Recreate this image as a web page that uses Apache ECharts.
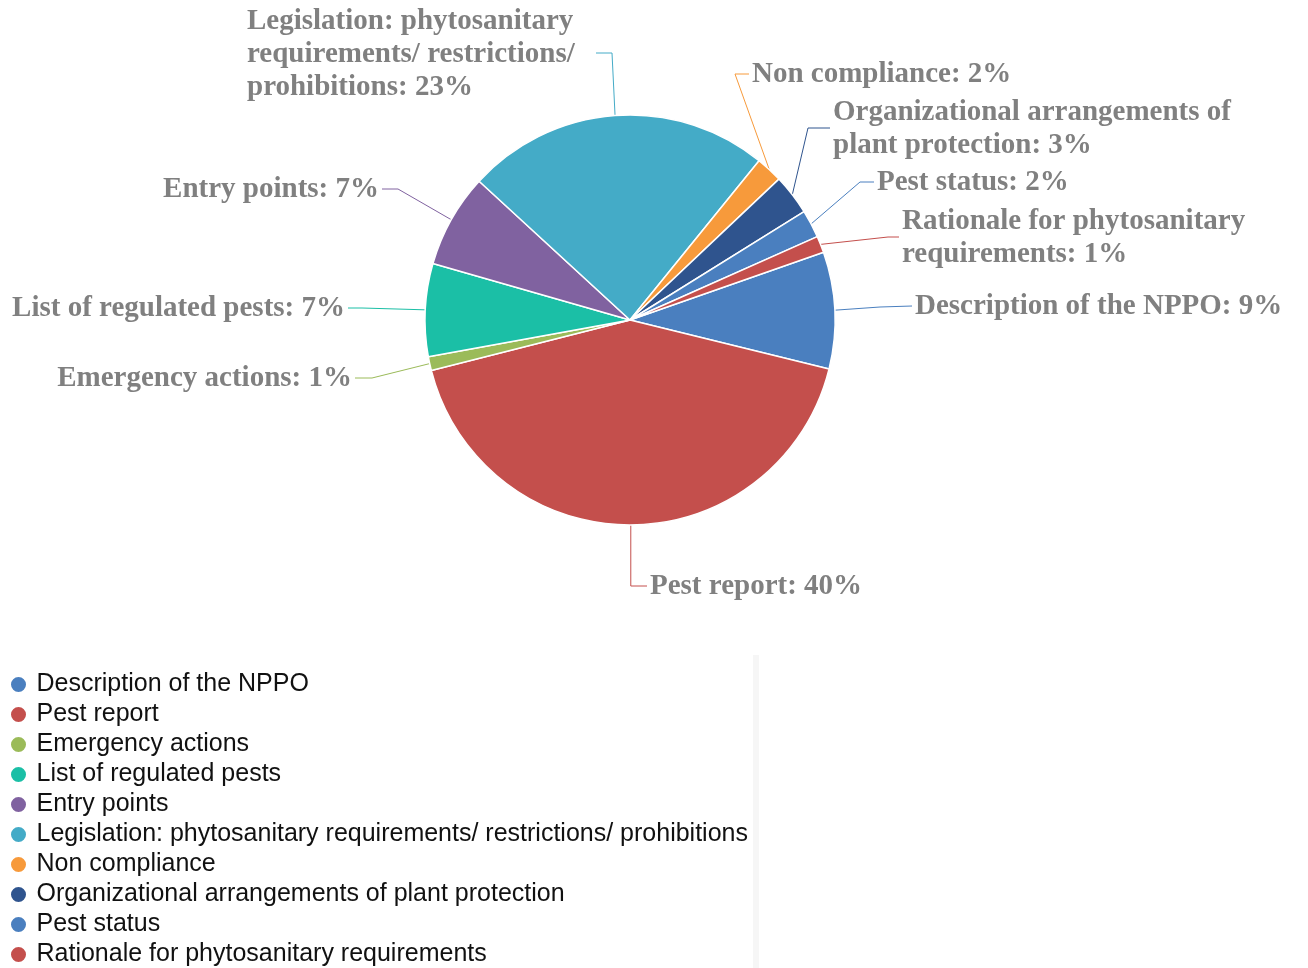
<!DOCTYPE html>
<html>
<head>
<meta charset="utf-8">
<script type="text/javascript" src="https://cdn.jsdelivr.net/npm/echarts@6/dist/echarts.min.js"></script>
</head>
<body style="margin: 0; background: #fff">
<div id="container" style="width: 1308px; height: 968px"></div>
<script type="text/javascript">
    // categories in legend order (clockwise from the first slice)
    var categories = [
        'Description of the NPPO',
        'Pest report',
        'Emergency actions',
        'List of regulated pests',
        'Entry points',
        'Legislation: phytosanitary requirements/ restrictions/ prohibitions',
        'Non compliance',
        'Organizational arrangements of plant protection',
        'Pest status',
        'Rationale for phytosanitary requirements'
    ];
    // slice sizes as drawn (share of the circle, %)
    var shares = [9.2, 42.2, 1.1, 7.3, 7.4, 24.0, 2.1, 3.2, 2.2, 1.3];
    // percentages printed on the labels
    var shownPct = [9, 40, 1, 7, 7, 23, 2, 3, 2, 1];
    // label text with the line breaks used in the chart
    var labelNames = [
        'Description of the NPPO',
        'Pest report',
        'Emergency actions',
        'List of regulated pests',
        'Entry points',
        'Legislation: phytosanitary\nrequirements/ restrictions/\nprohibitions',
        'Non compliance',
        'Organizational arrangements of\nplant protection',
        'Pest status',
        'Rationale for phytosanitary\nrequirements'
    ];
    var colors = ['#4a7fbf', '#c44f4c', '#9bbb59', '#1bbfa6', '#8062a0',
                  '#44abc7', '#f79a3b', '#2f548e', '#4a7fbf', '#c44f4c'];

    // where each label sits and how its leader line bends
    var spots = [
        {x: 915, y: 307, align: 'left',  bend: [880, 307], end: [912, 306]},
        {x: 650, y: 587, align: 'left',  bend: [null, 586], end: [647, 586]},
        {x: 352, y: 379, align: 'right', bend: [372, 378], end: [355, 378]},
        {x: 345, y: 309, align: 'right', bend: [362, 308], end: [348, 308]},
        {x: 379, y: 190, align: 'right', bend: [398, 189], end: [382, 189]},
        {x: 247, y: 55,  align: 'left',  bend: [612, 53], end: [596, 53]},
        {x: 752, y: 75,  align: 'left',  bend: [735, 74], end: [749, 74]},
        {x: 833, y: 129, align: 'left',  bend: [808, 128], end: [830, 128]},
        {x: 877, y: 183, align: 'left',  bend: [860, 182], end: [874, 182]},
        {x: 902, y: 238, align: 'left',  bend: [888, 237], end: [899, 237]}
    ];

    var seriesData = [];
    for (var i = 0; i < categories.length; i++) {
        seriesData.push({
            name: categories[i],
            value: shares[i],
            itemStyle: {color: colors[i]}
        });
    }

    var myChart = echarts.init(document.getElementById('container'), null, {renderer: 'canvas'});

    var option = {
        animation: false,
        backgroundColor: '#fff',
        legend: {
            orient: 'vertical',
            left: 9,
            top: 672,
            height: 296,
            padding: 0,
            icon: 'circle',
            itemWidth: 18,
            itemHeight: 17,
            itemGap: 5,
            data: categories,
            textStyle: {
                fontFamily: 'Liberation Sans, Arial, sans-serif',
                fontSize: 25,
                lineHeight: 25,
                color: '#111',
                padding: [0, 0, 0, 4]
            }
        },
        graphic: [{
            type: 'rect',
            left: 753,
            top: 655,
            shape: {width: 6, height: 313},
            style: {fill: '#f6f6f6'},
            silent: true
        }],
        series: [{
            type: 'pie',
            center: [630, 320],
            radius: 205,
            startAngle: 19.3,
            clockwise: true,
            avoidLabelOverlap: false,
            minShowLabelAngle: 0,
            data: seriesData,
            itemStyle: {borderColor: '#fff', borderWidth: 1.5},
            label: {
                show: true,
                position: 'outside',
                fontFamily: 'Liberation Serif, Times New Roman, serif',
                fontWeight: 'bold',
                fontSize: 29,
                lineHeight: 33,
                color: '#808080',
                formatter: function (p) {
                    return labelNames[p.dataIndex] + ': ' + shownPct[p.dataIndex] + '%';
                }
            },
            labelLine: {show: true, length: 20, length2: 20, lineStyle: {width: 1}},
            labelLayout: function (params) {
                var s = spots[params.dataIndex];
                var start = params.labelLinePoints[0];
                var bend = [s.bend[0] == null ? start[0] : s.bend[0], s.bend[1]];
                return {
                    x: s.x,
                    y: s.y,
                    align: s.align,
                    verticalAlign: 'middle',
                    labelLinePoints: [start, bend, s.end]
                };
            },
            emphasis: {disabled: true}
        }]
    };

    myChart.setOption(option);
    window.addEventListener('resize', myChart.resize);
</script>
</body>
</html>
